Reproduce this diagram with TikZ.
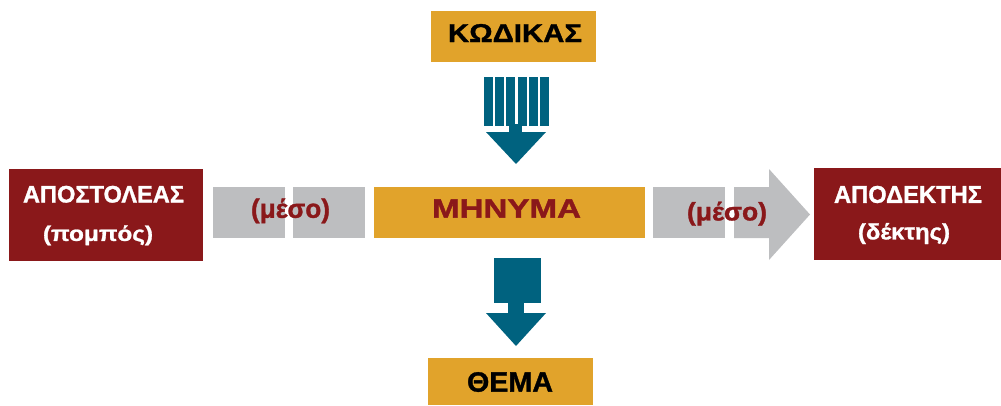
\documentclass[tikz,border=0pt]{standalone}
\usepackage{fontspec}
\setmainfont{Liberation Sans}
\newfontfamily\heavy[FakeBold=1.2]{Liberation Sans Bold}
\usepackage{graphicx}
\definecolor{gold}{HTML}{E1A32B}
\definecolor{dred}{HTML}{8A181A}
\definecolor{teal}{HTML}{00627F}
\definecolor{lgray}{HTML}{BDBEC0}
\newcommand{\fitcap}[3]{\resizebox{#1pt}{#2pt}{\heavy #3}}
\newcommand{\fitall}[3]{\resizebox*{#1pt}{#2pt}{\heavy #3}}
\tikzset{
  box/.style={draw=none, inner sep=0pt, outer sep=0pt},
  txt/.style={inner sep=0pt, outer sep=0pt, anchor=center},
}
\begin{document}
\begin{tikzpicture}[x=1pt,y=-1pt]
\useasboundingbox (0,0) rectangle (1001,405);
% boxes
\node[box, fill=gold, minimum width=165pt, minimum height=51pt] (kod) at (513.5,36.5) {};
\node[box, fill=gold, minimum width=271pt, minimum height=51pt] (msg) at (509.5,212.5) {};
\node[box, fill=gold, minimum width=165pt, minimum height=47pt] (thema) at (510.5,381.5) {};
\node[box, fill=dred, minimum width=194pt, minimum height=92pt] (send) at (106,215) {};
\node[box, fill=dred, minimum width=187pt, minimum height=92pt] (recv) at (907.5,214) {};
% left medium (two gray blocks)
\node[box, fill=lgray, minimum width=72pt, minimum height=51pt] (ml1) at (249,212.5) {};
\node[box, fill=lgray, minimum width=72pt, minimum height=51pt] (ml2) at (329,212.5) {};
% right medium (block + arrow)
\node[box, fill=lgray, minimum width=72pt, minimum height=51pt] (mr1) at (689,212.5) {};
\fill[lgray] (734,187) -- (769,187) -- (769,169) -- (810,214.5) -- (769,260) -- (769,238) -- (734,238) -- cycle;
% striped arrow from code
\foreach \i in {0,...,5} {
  \fill[teal] (484+\i*11.2,77) rectangle ++(9,49);
}
\fill[teal] (509,124) rectangle (522,132);
\fill[teal] (486,132) -- (546,132) -- (516,164) -- cycle;
% arrow to theme
\fill[teal] (494,258) rectangle (541,303);
\fill[teal] (508,302) rectangle (524,313);
\fill[teal] (486,313) -- (546,313) -- (516,346) -- cycle;
% texts
\node[txt] (tkod) at (515,33) {\fitcap{134}{18}{ΚΩΔΙΚΑΣ}};
\node[txt, text=dred] (tmsg) at (506.5,208.5) {\fitcap{149}{18.3}{ΜΗΝΥΜΑ}};
\node[txt] (tthema) at (510,382) {\fitcap{86}{19.5}{ΘΕΜΑ}};
\node[txt, text=white] (tsend1) at (103.5,194.3) {\fitcap{161}{16.7}{ΑΠΟΣΤΟΛΕΑΣ}};
\node[txt, text=white] (tsend2) at (98,235.3) {\fitall{110}{20}{(πομπός)}};
\node[txt, text=white] (trecv1) at (908,194.5) {\fitcap{148}{17}{ΑΠΟΔΕΚΤΗΣ}};
\node[txt, text=white] (trecv2) at (904,233.5) {\fitall{92}{21}{(δέκτης)}};
\node[txt, text=dred] (tml) at (290.5,210.8) {\fitall{79}{25}{(μέσο)}};
\node[txt, text=dred] (tmr) at (727,213.7) {\fitall{80}{24}{(μέσο)}};
\end{tikzpicture}
\end{document}
